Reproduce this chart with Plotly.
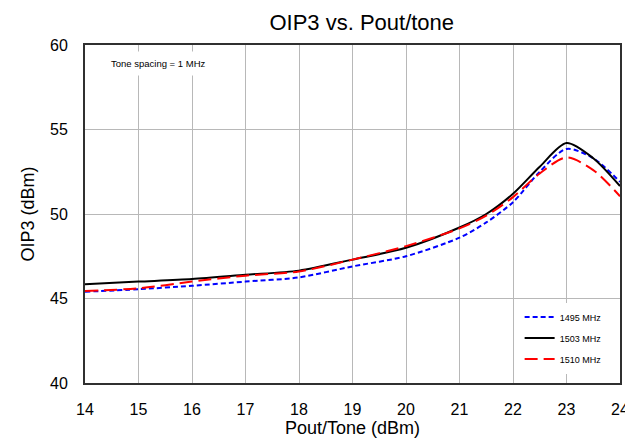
import plotly.graph_objects as go

pout = [14, 15, 16, 17, 18, 19, 20, 21, 21.5, 22, 22.5, 23, 23.5, 24]
oip3_1495 = [45.4, 45.55, 45.75, 46.0, 46.25, 46.9, 47.5, 48.6, 49.5, 50.7, 52.5, 53.85, 53.3, 51.9]
oip3_1503 = [45.85, 46.0, 46.15, 46.4, 46.65, 47.3, 48.0, 49.2, 50.0, 51.2, 52.8, 54.2, 53.3, 51.65]
oip3_1510 = [45.45, 45.6, 46.0, 46.35, 46.6, 47.3, 48.1, 49.15, 49.9, 51.0, 52.4, 53.35, 52.6, 51.05]

fig = go.Figure()
fig.add_trace(go.Scatter(x=pout, y=oip3_1495, name="1495 MHz", mode="lines", legendgroup="a",
                         line=dict(color="#0000ff", width=2, dash="5px,3px", shape="spline", smoothing=0.8)))
fig.add_trace(go.Scatter(x=pout, y=oip3_1503, name="1503 MHz", mode="lines", legendgroup="b",
                         line=dict(color="#000000", width=2, shape="spline", smoothing=0.8)))
fig.add_trace(go.Scatter(x=pout, y=oip3_1510, name="1510 MHz", mode="lines", legendgroup="c",
                         line=dict(color="#ff0000", width=2, dash="13px,6px", shape="spline", smoothing=0.8)))

# page body has an 8px margin, so the figure is 8px smaller and margins compensate
fig.update_layout(
    width=625, height=436,
    margin=dict(l=77, r=13, t=37, b=61, autoexpand=False),
    paper_bgcolor="white", plot_bgcolor="white",
    font=dict(family="Liberation Sans, Arial, sans-serif", color="black"),
    title=dict(text="OIP3 vs. Pout/tone", x=0.566, xanchor="center", y=0.985, yanchor="top",
               font=dict(size=22), automargin=False),
    xaxis=dict(range=[14, 24], dtick=1, showgrid=True, gridcolor="#b8b8b8", gridwidth=1,
               showline=True, linecolor="#303030", linewidth=2, mirror=True,
               ticks="outside", ticklen=11, tickcolor="rgba(0,0,0,0)", tickfont=dict(size=16),
               automargin=False,
               title=dict(text="Pout/Tone (dBm)", font=dict(size=18), standoff=4)),
    yaxis=dict(range=[40, 60], dtick=5, showgrid=True, gridcolor="#b8b8b8", gridwidth=1,
               showline=True, linecolor="#303030", linewidth=2, mirror=True,
               ticks="outside", ticklen=12, tickcolor="rgba(0,0,0,0)", tickfont=dict(size=16),
               zeroline=False, automargin=False,
               title=dict(text="OIP3 (dBm)", font=dict(size=18), standoff=11)),
    legend=dict(x=0.975, xanchor="right", y=0.238, yanchor="top", bgcolor="white",
                font=dict(size=9), itemwidth=30, tracegroupgap=2),
    showlegend=True,
)
fig.add_annotation(text="Tone spacing = 1 MHz", xref="paper", yref="paper", x=0.036, y=0.945,
                   xanchor="left", yanchor="middle", showarrow=False, bgcolor="white",
                   font=dict(size=9.5), borderpad=6)

fig.write_html("out.html")
